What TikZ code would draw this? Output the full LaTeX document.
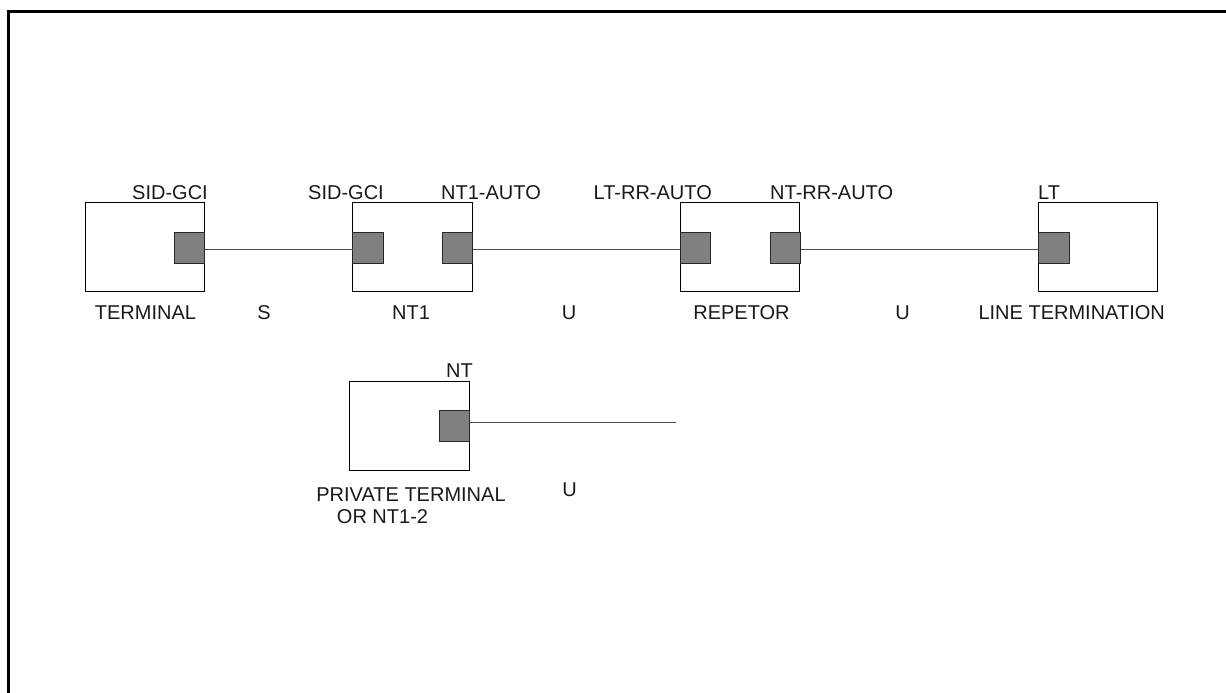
\documentclass[tikz,border=0pt]{standalone}
\usepackage{fontspec}
\setmainfont{Liberation Sans}
\begin{document}
\begin{tikzpicture}[x=1pt,y=-1pt,
  box/.style={draw=black,line width=1pt,fill=white,inner sep=0pt,outer sep=0pt,minimum height=89pt},
  port/.style={draw=black!85,line width=1pt,fill=black!50,inner sep=0pt,outer sep=0pt,minimum width=30.5pt,minimum height=31pt},
  wire/.style={draw=black!70,line width=1.2pt},
  lbl/.style={inner sep=0pt,font=\fontsize{20}{22}\selectfont,text=black!90}]
\useasboundingbox (0,0) rectangle (1226,693);
% frame
\draw[line width=3pt] (8.5,693) -- (8.5,11.5) -- (1226,11.5);
% boxes
\node[box,minimum width=119pt] (term) at (144.5,246.7) {};
\node[box,minimum width=119.6pt] (nt1) at (412.5,246.7) {};
\node[box,minimum width=119.3pt] (rep) at (740.3,246.7) {};
\node[box,minimum width=119.3pt] (lt) at (1098.3,246.7) {};
\node[box,minimum width=120pt] (priv) at (409.3,425.5) {};
% ports
\node[port] (tp) at (189.5,247.5) {};
\node[port] (nta) at (368,247.5) {};
\node[port] (ntb) at (457.5,247.5) {};
\node[port] (rpa) at (695.7,247.5) {};
\node[port] (rpb) at (785.7,247.5) {};
\node[port] (ltp) at (1054,247.5) {};
\node[port] (pp) at (454.3,425.7) {};
% wires
\draw[wire] ([yshift=-2pt]tp.east) -- ([yshift=-2pt]nta.west);
\draw[wire] ([yshift=-2pt]ntb.east) -- ([yshift=-2pt]rpa.west);
\draw[wire] ([yshift=-2pt]rpb.east) -- ([yshift=-2pt]ltp.west);
\coordinate (uend) at (676,422.7);
\draw[wire] ([yshift=3pt]pp.east) -- ([yshift=3pt]pp.east -| uend);
% labels
\node[lbl,anchor=base east] (l1) at (208,199) {SID-GCI};
\node[lbl,anchor=base east] (l2) at (384,199) {SID-GCI};
\node[lbl,anchor=base west] (l3) at (441,199) {NT1-AUTO};
\node[lbl,anchor=base east] (l4) at (712,199) {LT-RR-AUTO};
\node[lbl,anchor=base west] (l5) at (770,199) {NT-RR-AUTO};
\node[lbl,anchor=base west] (l6) at (1038,199) {LT};
\node[lbl,anchor=base] (b1) at (145.5,319) {TERMINAL};
\node[lbl,anchor=base] (b2) at (264,319) {S};
\node[lbl,anchor=base] (b3) at (411,319) {NT1};
\node[lbl,anchor=base] (b4) at (569,319) {U};
\node[lbl,anchor=base] (b5) at (741.5,319) {REPETOR};
\node[lbl,anchor=base] (b6) at (902.5,319) {U};
\node[lbl,anchor=base] (b7) at (1071.7,319) {LINE TERMINATION};
\node[lbl,anchor=base east] (n1) at (473,377) {NT};
\node[lbl,anchor=base] (n2) at (411,501) {PRIVATE TERMINAL};
\node[lbl,anchor=base] (n3) at (382.5,523) {OR NT1-2};
\node[lbl,anchor=base] (n4) at (569.5,496) {U};
\end{tikzpicture}
\end{document}
